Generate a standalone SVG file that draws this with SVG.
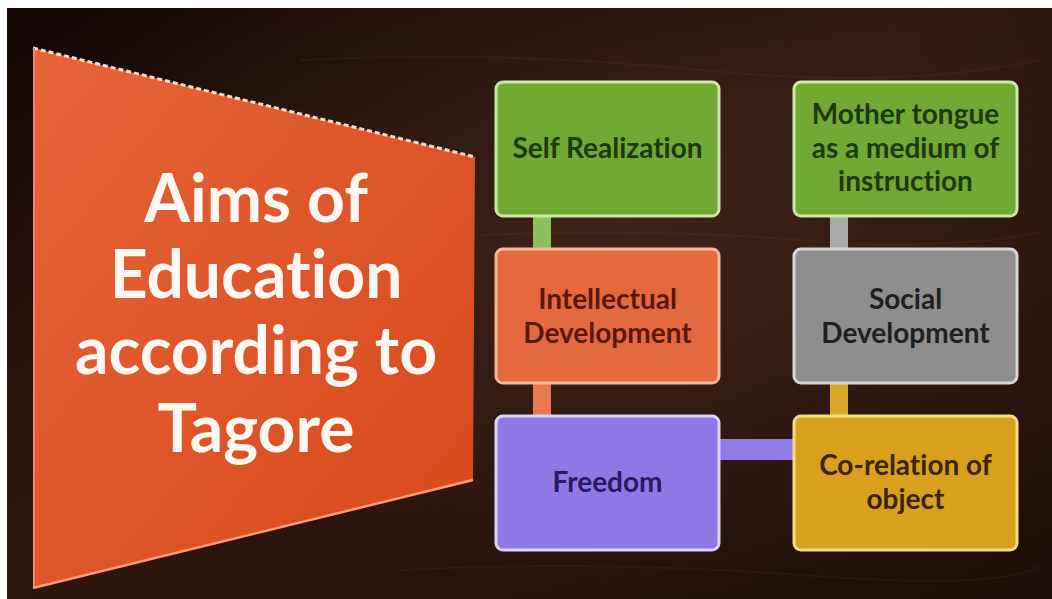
<svg xmlns="http://www.w3.org/2000/svg" width="1052" height="599" viewBox="0 0 1052 599">
<defs>
<linearGradient id="bg" x1="0" y1="0" x2="1" y2="1">
<stop offset="0" stop-color="#120705"/>
<stop offset="0.45" stop-color="#301710"/>
<stop offset="1" stop-color="#1e0d08"/>
</linearGradient>
<radialGradient id="glow" cx="0.6" cy="0.4" r="0.6">
<stop offset="0" stop-color="#4a2a1e" stop-opacity="0.55"/>
<stop offset="1" stop-color="#4a2a1e" stop-opacity="0"/>
</radialGradient>
<linearGradient id="trap" x1="0" y1="0" x2="1" y2="1">
<stop offset="0" stop-color="#e6643a"/>
<stop offset="1" stop-color="#d6481a"/>
</linearGradient>
<style>
.main{font-family:Lato,"Open Sans","Liberation Sans",sans-serif;font-weight:bold;font-size:66px;fill:#fff8f2;text-anchor:middle;font-variant-ligatures:none}
.lbl{font-family:Lato,"Open Sans","Liberation Sans",sans-serif;font-weight:bold;font-size:28px;text-anchor:middle;font-variant-ligatures:none}
.box{stroke-width:3}
.green{fill:#72a935;stroke:#cbe8a4}
.orange{fill:#e5693f;stroke:#f7b796}
.gray{fill:#8e8e8e;stroke:#d6d6d6}
.purple{fill:#8f78e6;stroke:#dcd4ff}
.gold{fill:#d8a11d;stroke:#f6dc86}
</style>
</defs>
<rect x="0" y="0" width="1052" height="599" fill="#ffffff"/>
<rect x="7" y="8" width="1045" height="591" fill="url(#bg)"/>
<rect x="7" y="8" width="1045" height="591" fill="url(#glow)"/>
<g opacity="0.12" stroke="#7a4a36" stroke-width="2" fill="none">
<path d="M300 60 Q500 50 700 70 T1040 60"/>
<path d="M480 235 Q650 228 800 240 T1040 232"/>
<path d="M400 570 Q600 560 800 575 T1040 566"/>
</g>
<g id="title">
<polygon points="33,48 475,157 473,480 33,588" fill="url(#trap)"/>
<line x1="33" y1="48" x2="475" y2="157" stroke="#ffe0d0" stroke-width="3" stroke-dasharray="5 3"/>
<line x1="34" y1="48" x2="34" y2="588" stroke="#f08a62" stroke-width="2"/>
<line x1="33" y1="588" x2="473" y2="480" stroke="#ff9a72" stroke-width="2.5"/>
<text class="main" x="256" y="222">Aims of</text>
<text class="main" x="256" y="298">Education</text>
<text class="main" x="256" y="374">according to</text>
<text class="main" x="256" y="452">Tagore</text>
</g>
<g id="connectors">
<rect x="533" y="216" width="18" height="34" fill="#8ebf5e"/>
<rect x="830" y="216" width="18" height="34" fill="#aaaaaa"/>
<rect x="533" y="382" width="18" height="35" fill="#e97a50"/>
<rect x="830" y="382" width="18" height="35" fill="#d9a82c"/>
<rect x="719" y="439" width="75" height="21" fill="#8f7ce6"/>
</g>
<g id="self-realization">
<rect class="box green" x="496" y="82" width="223" height="134" rx="7"/>
<text class="lbl" x="607.5" y="158" fill="#1c3a0a">Self Realization</text>
</g>
<g id="mother-tongue">
<rect class="box green" x="794" y="82" width="223" height="134" rx="7"/>
<text class="lbl" x="905.5" y="124" fill="#1c3a0a">Mother tongue</text>
<text class="lbl" x="905.5" y="158" fill="#1c3a0a">as a medium of</text>
<text class="lbl" x="905.5" y="191" fill="#1c3a0a">instruction</text>
</g>
<g id="intellectual">
<rect class="box orange" x="496" y="249" width="223" height="134" rx="7"/>
<text class="lbl" x="607.5" y="309" fill="#5a1808">Intellectual</text>
<text class="lbl" x="607.5" y="343" fill="#5a1808">Development</text>
</g>
<g id="social">
<rect class="box gray" x="794" y="249" width="223" height="134" rx="7"/>
<text class="lbl" x="905.5" y="309" fill="#202020">Social</text>
<text class="lbl" x="905.5" y="343" fill="#202020">Development</text>
</g>
<g id="freedom">
<rect class="box purple" x="496" y="416" width="223" height="134" rx="7"/>
<text class="lbl" x="607.5" y="492" fill="#261a66">Freedom</text>
</g>
<g id="corelation">
<rect class="box gold" x="794" y="416" width="223" height="134" rx="7"/>
<text class="lbl" x="905.5" y="475" fill="#3e2204">Co-relation of</text>
<text class="lbl" x="905.5" y="509" fill="#3e2204">object</text>
</g>
</svg>
